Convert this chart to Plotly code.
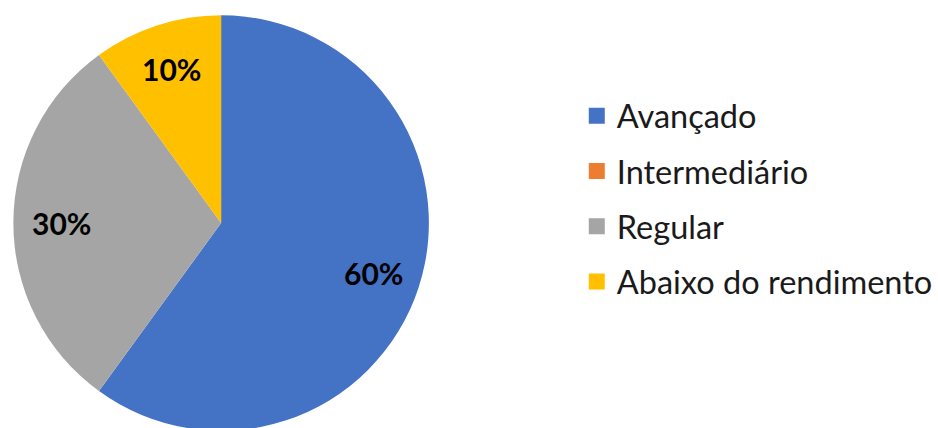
import math
import plotly.graph_objects as go

categories = ["Avançado", "Intermediário", "Regular", "Abaixo do rendimento"]
values = [60, 0, 30, 10]
colors = ["#4472C4", "#ED7D31", "#A5A5A5", "#FFC000"]

W, H = 938, 434
cx, cy, r = 223.5, 223, 210

fig = go.Figure()
fig.add_trace(go.Pie(
    labels=categories, values=values, sort=False, direction="clockwise", rotation=0,
    marker=dict(colors=colors, line=dict(width=0)),
    textinfo="none", showlegend=False, hoverinfo="label+percent",
    domain=dict(x=[(cx - r) / W, (cx + r) / W], y=[(H - cy - r) / H, (H - cy + r) / H]),
))
for c, col in zip(categories, colors):
    fig.add_trace(go.Scatter(
        x=[None], y=[None], mode="markers", name=c, legendgroup=c,
        marker=dict(symbol="square", size=19, color=col),
    ))

# data labels placed along each slice's mid-angle (computed from the values)
total = sum(values)
cum = 0
k = 0.77
for v in values:
    start = cum
    cum += v
    if v == 0:
        continue
    theta = math.radians((start + v / 2) / total * 360)
    px = cx + k * r * math.sin(theta)
    py = cy - k * r * math.cos(theta)
    fig.add_annotation(
        x=px / W, y=1 - py / H, xref="paper", yref="paper", showarrow=False,
        xanchor="center", yanchor="middle",
        text=f"{round(v / total * 100)}%",
        font=dict(family="Lato", size=30, color="black", weight="bold"),
    )

fig.update_layout(
    width=W, height=H, margin=dict(l=0, r=0, t=0, b=0),
    paper_bgcolor="white", plot_bgcolor="white",
    xaxis=dict(visible=False), yaxis=dict(visible=False),
    legend=dict(x=583 / W, xanchor="left", y=1 - 88 / H, yanchor="top",
                font=dict(family="Lato", size=32.5, color="#1a1a1a"),
                tracegroupgap=10, itemsizing="trace", bgcolor="rgba(0,0,0,0)"),
)
fig.write_html("out.html", post_script="document.body.style.overflow='hidden';document.documentElement.style.overflow='hidden';")
